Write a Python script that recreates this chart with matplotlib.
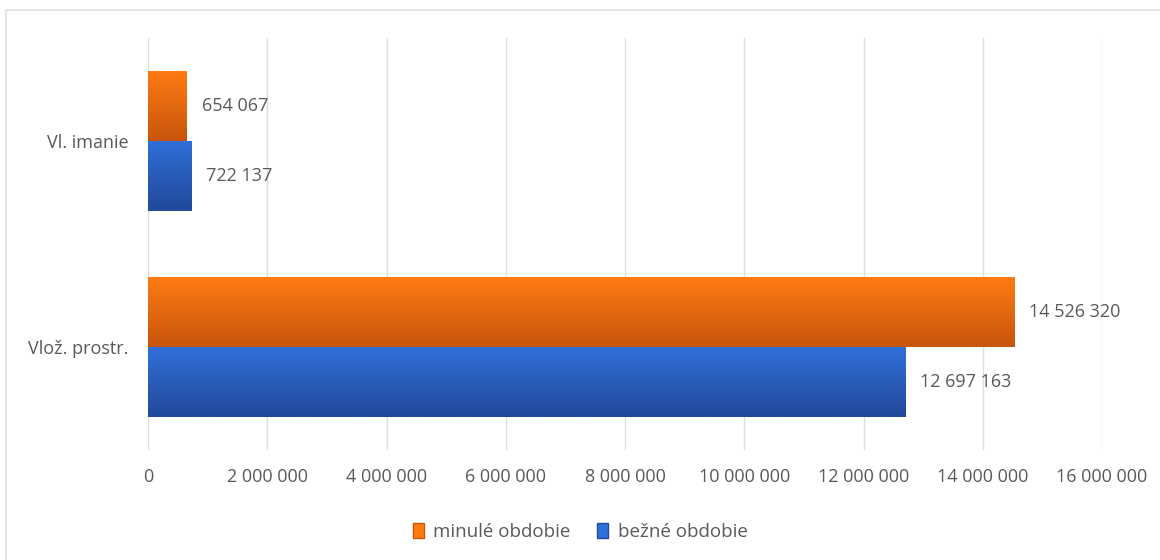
import matplotlib.pyplot as plt
import numpy as np
from matplotlib.patches import Rectangle
from matplotlib.lines import Line2D
from matplotlib.ticker import FuncFormatter

plt.rcParams['font.family'] = ['Open Sans', 'DejaVu Sans']

categories = ['Vlož. prostr.', 'Vl. imanie']
minule = [14526320, 654067]
bezne = [12697163, 722137]
series_names = ['minulé obdobie', 'bežné obdobie']

orange_top, orange_bot = '#FF7B12', '#C8550C'
blue_top, blue_bot = '#3070DA', '#22499A'
txt = '#595959'

fig = plt.figure(figsize=(11.6, 5.6), dpi=100)
ax = fig.add_axes([0.1276, 0.196, 0.8224, 0.736])

h = 0.34
y = np.arange(len(categories))


def gradient_bars(bars, top, bot):
    c1 = np.array(plt.matplotlib.colors.to_rgb(top))
    c2 = np.array(plt.matplotlib.colors.to_rgb(bot))
    t = np.linspace(0, 1, 64)[:, None]
    img = (c1 * (1 - t) + c2 * t)[:, None, :]
    for b in bars:
        x0, y0 = b.get_x(), b.get_y()
        w, hh = b.get_width(), b.get_height()
        im = ax.imshow(img, extent=[x0, x0 + w, y0, y0 + hh], origin='upper',
                       aspect='auto', zorder=3)
        im.set_clip_path(b)


b1 = ax.barh(y + h / 2, minule, height=h, color=orange_top, zorder=3,
             label=series_names[0])
b2 = ax.barh(y - h / 2, bezne, height=h, color=blue_top, zorder=3,
             label=series_names[1])
gradient_bars(b1, orange_top, orange_bot)
gradient_bars(b2, blue_top, blue_bot)

fmt = lambda v: f'{int(v):,}'.replace(',', ' ')
for bars, vals in ((b1, minule), (b2, bezne)):
    for b, v in zip(bars, vals):
        ax.annotate(fmt(v), (v, b.get_y() + b.get_height() / 2),
                    xytext=(11, 0), textcoords='offset points',
                    va='center', ha='left', fontsize=13, color=txt)

ax.set_xlim(0, 16000000)
ax.set_ylim(-0.5, 1.5)
ax.set_xticks(np.arange(0, 16000001, 2000000))
ax.xaxis.set_major_formatter(FuncFormatter(lambda v, p: fmt(v)))
ax.set_yticks(y)
ax.set_yticklabels(categories)
ax.tick_params(axis='both', length=0, labelsize=13, labelcolor=txt)
ax.tick_params(axis='x', pad=13)
ax.tick_params(axis='y', pad=14)
ax.grid(axis='x', color='#D9DDE5', linewidth=1, zorder=0)
for s in ax.spines.values():
    s.set_visible(False)

handles = [Rectangle((0, 0), 1, 1, color=orange_top, ec=orange_bot),
           Rectangle((0, 0), 1, 1, color=blue_top, ec=blue_bot)]
fig.legend(handles, series_names, loc='center', bbox_to_anchor=(0.5, 0.05),
           ncol=2, frameon=False, fontsize=13.5, labelcolor=txt,
           handlelength=0.6, handleheight=0.8, handletextpad=0.5,
           columnspacing=1.4)

# light frame on top and left edge
fig.add_artist(Line2D([6 / 1160, 1], [1 - 10 / 560] * 2, transform=fig.transFigure,
                      color='#E3E6EC', lw=1.5))
fig.add_artist(Line2D([6 / 1160] * 2, [0, 1 - 10 / 560], transform=fig.transFigure,
                      color='#E3E6EC', lw=1.5))

fig.savefig('out.png', dpi=100)
